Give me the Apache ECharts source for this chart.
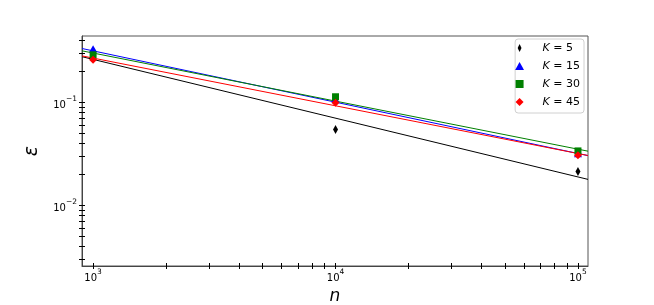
<!DOCTYPE html>
<html><head><meta charset="utf-8">
<script src="https://cdn.jsdelivr.net/npm/echarts@6/dist/echarts.min.js"></script>
<style>html,body{margin:0;padding:0;background:#fff}#c{width:654px;height:305px}</style>
</head><body><div id="c"></div>
<script>
// ---- data ----
const nValues = [1000, 10000, 100000];
const epsK5  = [0.28, 0.055, 0.0215];
const epsK15 = [0.333, 0.107, 0.032];
const epsK30 = [0.291, 0.114, 0.034];
const epsK45 = [0.26, 0.0996, 0.0309];
// fitted power-law lines (end values)
const fitN   = [900, 110000];
const fitK5  = [0.279, 0.018];
const fitK15 = [0.335, 0.0306];
const fitK30 = [0.318, 0.0338];
const fitK45 = [0.284, 0.0307];
// ticks
const xTickValues = [1000,2000,3000,4000,5000,6000,7000,8000,9000,
  10000,20000,30000,40000,50000,60000,70000,80000,90000,100000];
const xLabelValues = [1000, 10000, 100000];
const yTickValues = [0.003,0.004,0.005,0.006,0.007,0.008,0.009,
  0.01,0.02,0.03,0.04,0.05,0.06,0.07,0.08,0.09,0.1,0.2,0.3,0.4];
const yLabelValues = [0.01, 0.1];
const xRange = [900, 110000];
const yRange = [0.0026, 0.443];

const font = 'DejaVu Sans';
const pairs = (xs, ys) => xs.map((x, i) => [x, ys[i]]);
const supFmt = v => {
  const e = Math.round(Math.log10(v));
  return '{b|10}{s|' + (e < 0 ? '\u2212' + (-e) : e) + '}';
};
const labelRich = {
  b: { fontSize: 10, fontFamily: font, color: '#000', lineHeight: 15, verticalAlign: 'bottom' },
  s: { fontSize: 7.5, fontFamily: font, color: '#000', lineHeight: 9, verticalAlign: 'top' }
};
const tickStyle = { color: '#000', width: 1 };
const icons = {
  thinDiamond: 'path://M3,0L5.4,5L3,10L0.6,5Z',
  triangle: 'path://M5,0L10,9L0,9Z',
  square: 'path://M0,0L8,0L8,8L0,8Z',
  diamond: 'path://M5,0L10,5L5,10L0,5Z'
};

const chart = echarts.init(document.getElementById('c'), null, { renderer: 'canvas' });
const baseX = {
  type: 'log', logBase: 10, min: xRange[0], max: xRange[1], gridIndex: 0,
  splitLine: { show: false }, minorTick: { show: false }
};
const baseY = {
  type: 'log', logBase: 10, min: yRange[0], max: yRange[1], gridIndex: 0,
  splitLine: { show: false }, minorTick: { show: false }
};
const option = {
  animation: false,
  backgroundColor: '#fff',
  textStyle: { fontFamily: font },
  grid: { left: 82, right: 66, top: 36, bottom: 39, containLabel: false, outerBoundsMode: 'none',
    show: true, borderColor: '#555', borderWidth: 1, backgroundColor: 'transparent' },
  xAxis: [
    Object.assign({}, baseX, {
      position: 'bottom',
      name: 'n', nameLocation: 'middle', nameGap: 16,
      nameTextStyle: { fontSize: 17, fontStyle: 'italic', fontFamily: font, color: '#000' },
      axisLine: { show: true, lineStyle: { color: '#444', width: 1 } },
      axisTick: { show: true, length: 3, inside: false, lineStyle: tickStyle, customValues: xTickValues },
      axisLabel: { show: true, customValues: xLabelValues, formatter: supFmt, fontSize: 10, color: '#000', margin: 2, fontFamily: font, rich: labelRich }
    }),
    Object.assign({}, baseX, {
      position: 'bottom',
      axisLine: { show: false },
      axisTick: { show: true, length: 3, inside: true, lineStyle: tickStyle, customValues: xTickValues },
      axisLabel: { show: false }
    })
  ],
  yAxis: [
    Object.assign({}, baseY, {
      position: 'left',
      name: '\u03b5', nameLocation: 'middle', nameGap: 40,
      nameTextStyle: { fontSize: 19, fontStyle: 'italic', fontFamily: font, color: '#000' },
      axisLine: { show: true, lineStyle: { color: '#444', width: 1 } },
      axisTick: { show: true, length: 3, inside: false, lineStyle: tickStyle, customValues: yTickValues },
      axisLabel: { show: true, customValues: yLabelValues, formatter: supFmt, fontSize: 10, color: '#000', margin: 5, fontFamily: font, rich: labelRich }
    }),
    Object.assign({}, baseY, {
      position: 'left',
      axisLine: { show: false },
      axisTick: { show: true, length: 3, inside: true, lineStyle: tickStyle, customValues: yTickValues },
      axisLabel: { show: false }
    })
  ],
  legend: {
    orient: 'vertical', right: 70, top: 39,
    backgroundColor: 'rgba(255,255,255,0.8)', borderColor: '#d0d0d0', borderWidth: 1, borderRadius: 3,
    padding: [3, 4, 5, 0],
    itemWidth: 36, itemHeight: 8, itemGap: 6,
    textStyle: { fontSize: 11, fontFamily: font, color: '#000', lineHeight: 12,
      rich: { i: { fontSize: 11, fontStyle: 'italic', fontFamily: font, color: '#000' } } },
    formatter: name => '{i|K} ' + name.slice(2),
    data: [
      { name: 'K = 5', icon: icons.thinDiamond, itemStyle: { opacity: 1 } },
      { name: 'K = 15', icon: icons.triangle, itemStyle: { opacity: 1 } },
      { name: 'K = 30', icon: icons.square, itemStyle: { opacity: 1 } },
      { name: 'K = 45', icon: icons.diamond, itemStyle: { opacity: 1 } }
    ]
  },
  series: [
    { name: 'fit5', type: 'line', data: pairs(fitN, fitK5), symbol: 'none', lineStyle: { color: '#000', width: 1 }, itemStyle: { color: '#000' }, z: 2, silent: true },
    { name: 'fit15', type: 'line', data: pairs(fitN, fitK15), symbol: 'none', lineStyle: { color: '#0000ff', width: 1 }, itemStyle: { color: '#0000ff' }, z: 2, silent: true },
    { name: 'fit30', type: 'line', data: pairs(fitN, fitK30), symbol: 'none', lineStyle: { color: '#008000', width: 1 }, itemStyle: { color: '#008000' }, z: 2, silent: true },
    { name: 'fit45', type: 'line', data: pairs(fitN, fitK45), symbol: 'none', lineStyle: { color: '#ff0000', width: 1 }, itemStyle: { color: '#ff0000' }, z: 2, silent: true },
    { name: 'K = 5', type: 'scatter', data: pairs(nValues, epsK5), symbol: icons.thinDiamond, symbolSize: [5, 9], itemStyle: { color: '#000', opacity: 1 }, z: 3 },
    { name: 'K = 15', type: 'scatter', data: pairs(nValues, epsK15), symbol: icons.triangle, symbolSize: [8, 7], itemStyle: { color: '#0000ff', opacity: 1 }, z: 3 },
    { name: 'K = 30', type: 'scatter', data: pairs(nValues, epsK30), symbol: icons.square, symbolSize: [7, 7], itemStyle: { color: '#008000', opacity: 1 }, z: 3 },
    { name: 'K = 45', type: 'scatter', data: pairs(nValues, epsK45), symbol: icons.diamond, symbolSize: [8, 8], itemStyle: { color: '#ff0000', opacity: 1 }, z: 3 }
  ]
};
chart.setOption(option);
</script>
</body></html>
